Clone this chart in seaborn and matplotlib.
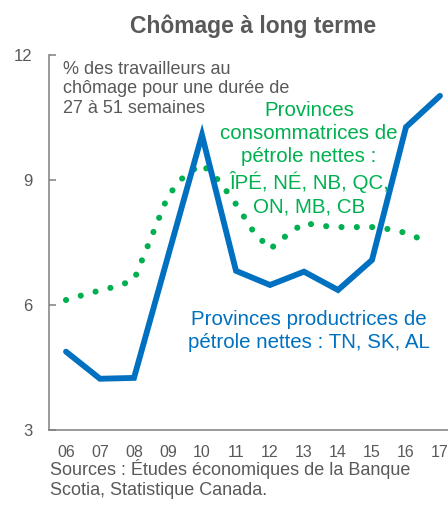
import numpy as np
import pandas as pd
import seaborn as sns
import matplotlib.pyplot as plt
from matplotlib.ticker import FixedLocator, NullFormatter

# year labels (2006 to 2017)
years = ["06", "07", "08", "09", "10", "11", "12", "13", "14", "15", "16", "17"]

# oil producing provinces (annual)
producers = [4.88, 4.23, 4.25, 7.17, 10.08, 6.82, 6.48, 6.80, 6.36, 7.08, 10.27, 11.02]

# oil consuming provinces (half-year readings, 2006 to mid-2016)
consumers = [6.12, 6.24, 6.35, 6.45, 6.60, 7.61, 8.62, 9.12, 9.38, 8.98, 8.42,
             7.78, 7.34, 7.68, 7.97, 7.90, 7.87, 7.87, 7.87, 7.82, 7.73, 7.56]

blue = "#0070C0"
green = "#00B050"
grey = "#595959"

df_prod = pd.DataFrame({"x": np.arange(len(producers)), "val": producers})
df_cons = pd.DataFrame({"x": np.arange(len(consumers)) * 0.5, "val": consumers})

sns.set_style("white")
plt.rcParams['font.family'] = ['Liberation Sans', 'DejaVu Sans']

fig = plt.figure(figsize=(4.48, 5.08), dpi=100)
ax = fig.add_axes([49 / 448, 1 - 430 / 508, 408 / 448, 375 / 508])

sns.lineplot(data=df_cons, x="x", y="val", ax=ax, color=green, lw=4.4,
             linestyle=(0, (0.01, 2.5)), dash_capstyle="round")
sns.lineplot(data=df_prod, x="x", y="val", ax=ax, color=blue, lw=4.2,
             solid_joinstyle="miter")

ax.set_xlim(-0.5, 11.5)
ax.set_ylim(3, 12)
ax.set_yticks([3, 6, 9, 12])
ax.xaxis.set_major_locator(FixedLocator(np.arange(len(years)) + 0.5))
ax.xaxis.set_major_formatter(NullFormatter())
ax.xaxis.set_minor_locator(FixedLocator(np.arange(len(years))))
ax.set_xticklabels(years, minor=True)
ax.tick_params(axis="x", which="major", direction="out", length=5, width=1.1, color="#7f7f7f")
ax.tick_params(axis="x", which="minor", length=0, pad=11, labelsize=11.5, labelcolor=grey)
ax.tick_params(axis="y", direction="in", length=5, width=1.1, color="#7f7f7f",
               pad=12, labelsize=12, labelcolor=grey, left=True)
ax.set_xlabel("")
ax.set_ylabel("")
sns.despine(ax=ax)
for s in ["left", "bottom"]:
    ax.spines[s].set_color("#7f7f7f")
    ax.spines[s].set_linewidth(1.1)

fig.text(253 / 448, 1 - 33 / 508, "Chômage à long terme", ha="center", va="baseline",
         fontsize=16.5, fontweight="bold", color=grey)

fig.text(63 / 448, 1 - 113 / 508, "% des travailleurs au\nchômage pour une durée de\n27 à 51 semaines",
         ha="left", va="baseline", fontsize=13, color=grey, linespacing=1.2)

ax.text(7.15, 8.23, "Provinces\nconsommatrices de\npétrole nettes :\nÎPÉ, NÉ, NB, QC,\nON, MB, CB",
        ha="center", va="baseline", fontsize=14.8, color=green, linespacing=1.27, zorder=1)
ax.text(7.15, 4.97, "Provinces productrices de\npétrole nettes : TN, SK, AL",
        ha="center", va="baseline", fontsize=14.8, color=blue, linespacing=1.27)

fig.text(50 / 448, 1 - 495 / 508, "Sources : Études économiques de la Banque\nScotia, Statistique Canada.",
         ha="left", va="baseline", fontsize=13, color=grey, linespacing=1.25)

fig.savefig("out.png", dpi=100)
